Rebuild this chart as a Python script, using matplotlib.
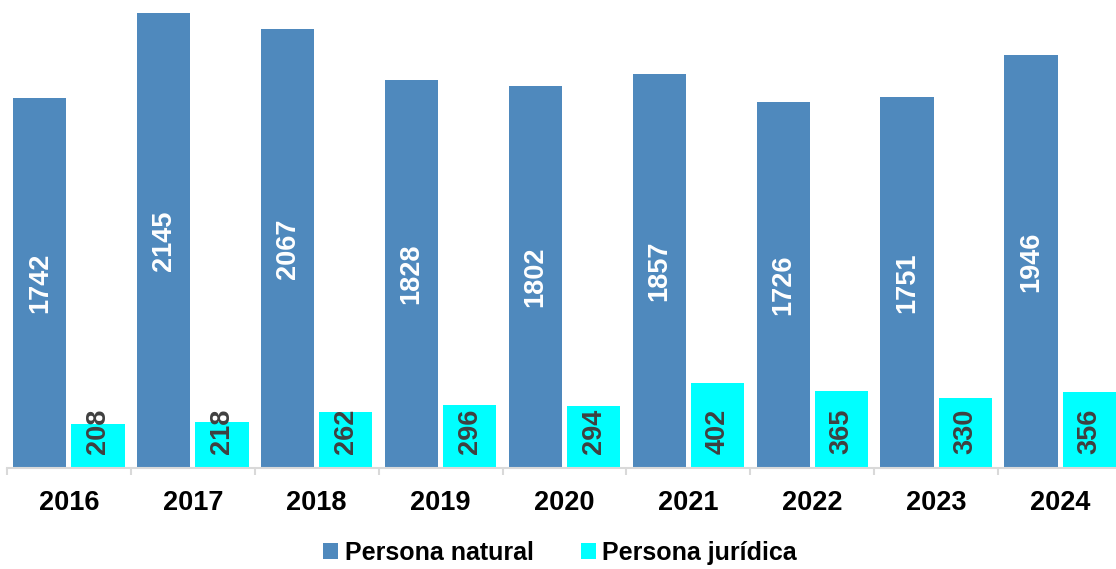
import matplotlib.pyplot as plt
import numpy as np

plt.rcParams['font.family'] = ['Liberation Sans', 'DejaVu Sans']

# Datos
anios = ['2016', '2017', '2018', '2019', '2020', '2021', '2022', '2023', '2024']
natural = [1742, 2145, 2067, 1828, 1802, 1857, 1726, 1751, 1946]
juridica = [208, 218, 262, 296, 294, 402, 365, 330, 356]

color_nat = '#4F89BD'
color_jur = '#00FFFF'

fig = plt.figure(figsize=(11.16, 5.69), dpi=100)
ax = fig.add_axes([7 / 1116, 101 / 569, 1115 / 1116, 468 / 569])

x = np.arange(len(anios))
w = 0.43
off = 0.235

bars_nat = ax.bar(x - off, natural, w, color=color_nat, label='Persona natural')
bars_jur = ax.bar(x + off, juridica, w, color=color_jur, label='Persona jurídica')

# Etiquetas de valores
for bar, v in zip(bars_nat, natural):
    ax.text(bar.get_x() + bar.get_width() / 2, v / 2, str(v), rotation=90,
            ha='center', va='center', color='white', fontsize=19.5, fontweight='bold')
for bar, v in zip(bars_jur, juridica):
    ax.annotate(str(v), (bar.get_x() + bar.get_width() / 2, 0), xytext=(0, 10),
                textcoords='offset points', rotation=90, ha='center', va='bottom',
                color='#404040', fontsize=19.5, fontweight='bold')

ax.set_xlim(-0.5, len(anios) - 0.5)
ax.set_ylim(0, 2206)

ax.set_xticks(x)
ax.set_xticklabels(anios, fontsize=19.5, fontweight='bold')
ax.tick_params(axis='x', which='major', length=0, pad=16)
ax.set_xticks(np.arange(len(anios) + 1) - 0.5, minor=True)
ax.tick_params(axis='x', which='minor', length=5, width=1.5, color='#D9D9D9')
ax.set_yticks([])

for s in ['top', 'right', 'left']:
    ax.spines[s].set_visible(False)
ax.spines['bottom'].set_color('#D9D9D9')
ax.spines['bottom'].set_linewidth(1.5)

fig.legend(handles=[bars_nat, bars_jur], loc='center', bbox_to_anchor=(0.502, 0.028),
           ncol=2, frameon=False, prop={'size': 18, 'weight': 'bold'},
           handlelength=0.6, handleheight=0.6, handletextpad=0.25, columnspacing=1.9)

plt.savefig('out.png', dpi=100)
